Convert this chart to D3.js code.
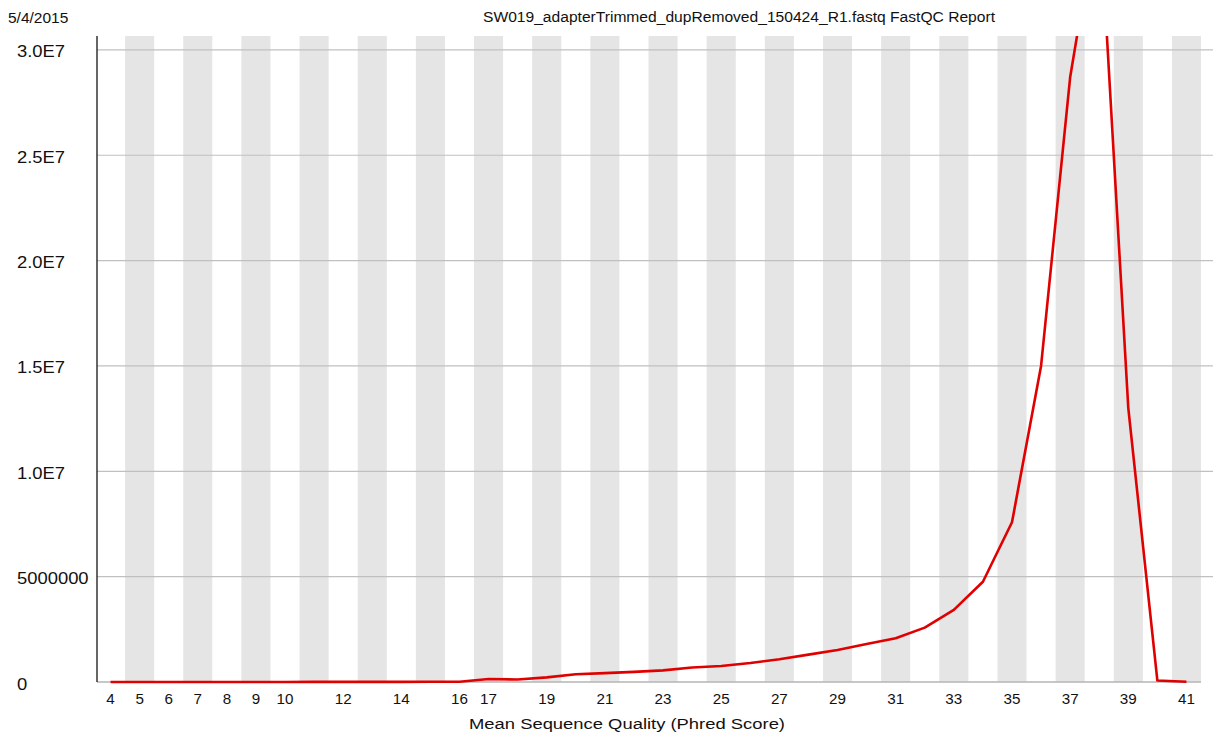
<!DOCTYPE html>
<html>
<head>
<meta charset="utf-8">
<script src="https://cdn.jsdelivr.net/npm/d3@7"></script>
<style>
  body { margin: 0; background: #fff; }
  svg { display: block; font-family: "Liberation Sans", Arial, sans-serif; }
</style>
</head>
<body>
<div id="graph"></div>
<script>
"use strict";

// Chart data
const reportDate = "5/4/2015";
const reportTitle = "SW019_adapterTrimmed_dupRemoved_150424_R1.fastq FastQC Report";
const xTitle = "Mean Sequence Quality (Phred Score)";

const qualities = [4, 5, 6, 7, 8, 9, 10, 11, 12, 13, 14, 15, 16, 17, 18, 19, 20, 21, 22,
  23, 24, 25, 26, 27, 28, 29, 30, 31, 32, 33, 34, 35, 36, 37, 38, 39, 40, 41];
const counts = [300, 600, 900, 1200, 1600, 2100, 2800, 3600, 4700, 6200, 8200, 11000, 15000,
  140000, 120000, 220000, 370000, 420000, 480000, 550000, 690000, 760000, 900000, 1080000,
  1300000, 1520000, 1800000, 2080000, 2580000, 3420000, 4760000, 7580000, 15000000,
  28700000, 37000000, 13000000, 70000, 10000];

const xTickLabels = [4, 5, 6, 7, 8, 9, 10, 12, 14, 16, 17, 19, 21, 23, 25, 27, 29, 31, 33, 35, 37, 39, 41];
const yTickValues = [0, 5000000, 10000000, 15000000, 20000000, 25000000, 30000000];
const yTickLabels = ["0", "5000000", "1.0E7", "1.5E7", "2.0E7", "2.5E7", "3.0E7"];
const yMax = 30660000;

// Dimensions
const w = 1215;
const h = 748;
const plot = { left: 96, right: 1201, top: 36, bottom: 682 };

const svg = d3.select("#graph").append("svg").attr("width", w).attr("height", h);

const x = d3.scaleBand().domain(qualities).range([plot.left, plot.right]);
const y = d3.scaleLinear().domain([0, yMax]).range([plot.bottom, plot.top]);
const cx = (q) => x(q) + x.bandwidth() / 2;

// Alternating stripes
svg.append("g")
  .selectAll("rect")
  .data(qualities.filter((d, i) => i % 2 === 1))
  .enter()
  .append("rect")
  .attr("x", (d) => x(d))
  .attr("y", plot.top)
  .attr("width", x.bandwidth())
  .attr("height", plot.bottom - plot.top)
  .attr("fill", "#e5e5e5");

// Horizontal grid lines
svg.append("g")
  .selectAll("line")
  .data(yTickValues.slice(1))
  .enter()
  .append("line")
  .attr("x1", plot.left + 1)
  .attr("x2", 1213)
  .attr("y1", (d) => y(d))
  .attr("y2", (d) => y(d))
  .attr("stroke", "#c0c0c0")
  .attr("stroke-width", 1.2);

// Axes lines
svg.append("line")
  .attr("x1", plot.left + 1).attr("x2", plot.right)
  .attr("y1", plot.bottom).attr("y2", plot.bottom)
  .attr("stroke", "#b4b4b4").attr("stroke-width", 1.5);
svg.append("line")
  .attr("x1", plot.left + 1).attr("x2", plot.left + 1)
  .attr("y1", plot.top).attr("y2", plot.bottom)
  .attr("stroke", "#000").attr("stroke-width", 1.2);

// Y tick labels (stretched a little, like the original image)
svg.append("g")
  .selectAll("text")
  .data(yTickValues)
  .enter()
  .append("text")
  .attr("transform", (d) => `translate(17, ${y(d) + 7.5}) scale(1.15, 1)`)
  .attr("font-size", 16)
  .attr("fill", "#111")
  .text((d, i) => yTickLabels[i]);

// X tick labels
svg.append("g")
  .selectAll("text")
  .data(xTickLabels)
  .enter()
  .append("text")
  .attr("transform", (d) => `translate(${cx(d)}, 704) scale(1.05, 1)`)
  .attr("text-anchor", "middle")
  .attr("font-size", 14.5)
  .attr("fill", "#111")
  .text((d) => d);

// Titles
svg.append("text")
  .attr("x", 8).attr("y", 22.5)
  .attr("font-size", 15.5).attr("fill", "#111")
  .text(reportDate);
svg.append("text")
  .attr("x", 483).attr("y", 22)
  .attr("font-size", 15.5).attr("fill", "#111")
  .attr("textLength", 512).attr("lengthAdjust", "spacingAndGlyphs")
  .text(reportTitle);
svg.append("text")
  .attr("x", 469).attr("y", 729)
  .attr("font-size", 15.5).attr("fill", "#111")
  .attr("textLength", 316).attr("lengthAdjust", "spacingAndGlyphs")
  .text(xTitle);

// Data line, clipped at plot area
svg.append("clipPath").attr("id", "clip")
  .append("rect")
  .attr("x", plot.left).attr("y", plot.top)
  .attr("width", w - plot.left).attr("height", plot.bottom - plot.top + 4);

const line = d3.line()
  .x((d, i) => cx(qualities[i]))
  .y((d) => y(d));

svg.append("path")
  .datum(counts)
  .attr("clip-path", "url(#clip)")
  .attr("d", line)
  .attr("fill", "none")
  .attr("stroke", "#e00000")
  .attr("stroke-width", 2.6)
  .attr("stroke-linejoin", "round");
</script>
</body>
</html>
